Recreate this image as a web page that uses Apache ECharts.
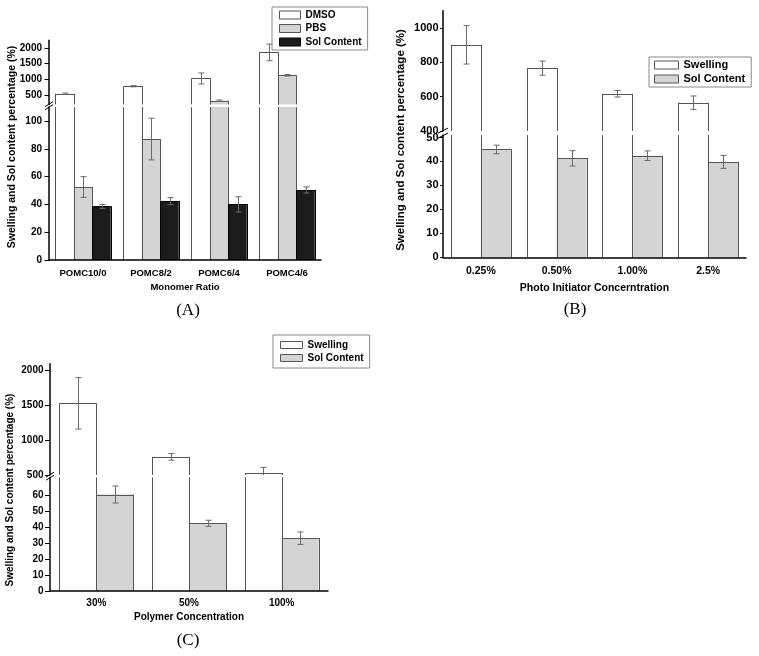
<!DOCTYPE html>
<html><head><meta charset="utf-8">
<script src="https://cdn.jsdelivr.net/npm/echarts@6/dist/echarts.min.js"></script>
<style>html,body{margin:0;padding:0;background:#fff}#c{width:759px;height:656px}</style>
</head><body><div id="c"></div>
<script>
// ---------- Panel A ----------
const catsA = ['POMC10/0', 'POMC8/2', 'POMC6/4', 'POMC4/6'];
const dmsoA = [540, 780, 1030, 1860];
const dmsoErrA = [20, 20, 175, 265];
const pbsA = [52.5, 87, 320, 1130];
const pbsErrA = [7.5, 15, 20, 25];
const solA = [38.5, 42.4, 40, 50.4];
const solErrA = [1.5, 2.5, 5.5, 2.2];
const ticksAUpper = [500, 1000, 1500, 2000];
const ticksALower = [0, 20, 40, 60, 80, 100];
// ---------- Panel B ----------
const catsB = ['0.25%', '0.50%', '1.00%', '2.5%'];
const swellB = [902, 766, 617, 565];
const swellErrB = [112, 41, 19, 39];
const solB = [45, 41.3, 42.4, 39.8];
const solErrB = [1.8, 3.2, 2, 2.7];
const ticksBUpper = [400, 600, 800, 1000];
const ticksBLower = [0, 10, 20, 30, 40, 50];
// ---------- Panel C ----------
const catsC = ['30%', '50%', '100%'];
const swellC = [1530, 761, 529];
const swellErrC = [370, 48, 80];
const solC = [60.3, 42.3, 33];
const solErrC = [5.3, 1.9, 3.9];
const ticksCUpper = [500, 1000, 1500, 2000];
const ticksCLower = [0, 10, 20, 30, 40, 50, 60];

const YNAME = 'Swelling and Sol content percentage (%)';
const FONT = 'Liberation Sans, Arial, Helvetica, sans-serif';
const WHITE = {fill: '#ffffff', stroke: '#555555'};
const GRAY = {fill: '#d4d4d4', stroke: '#555555'};
const BLACK = {fill: '#1c1c1c', stroke: '#000000'};

const panels = [
  {cats: catsA, xName: 'Monomer Ratio',
   series: [{name: 'DMSO', v: dmsoA, e: dmsoErrA, st: WHITE},
            {name: 'PBS', v: pbsA, e: pbsErrA, st: GRAY},
            {name: 'Sol Content', v: solA, e: solErrA, st: BLACK}],
   left: 49, width: 272,
   upper: {top: 40.2, height: 64.2, min: 200, max: 2250, ticks: ticksAUpper},
   lower: {top: 107.1, height: 152.9, min: 0, max: 110, ticks: ticksALower},
   barWidth: 18.5, cap: 6, ySize: 10, tickLen: 4.5, labelMargin: 7,
   xSize: 9.5, xMargin: 8, xNameSize: 9.5, xNameGap: 22.5,
   brk: {off: 1.4, dx: 4, dy: 2.5, sep: 3}},
  {cats: catsB, xName: 'Photo Initiator Concerntration',
   series: [{name: 'Swelling', v: swellB, e: swellErrB, st: WHITE},
            {name: 'Sol Content', v: solB, e: solErrB, st: GRAY}],
   left: 443, width: 303,
   upper: {top: 10.8, height: 120.2, min: 400, max: 1100, ticks: ticksBUpper},
   lower: {top: 135.1, height: 122.2, min: 0, max: 51, ticks: ticksBLower},
   barWidth: 30, cap: 6, ySize: 11, tickLen: 3, labelMargin: 4.5,
   xSize: 10.5, xMargin: 8, xNameSize: 10.5, xNameGap: 25,
   brk: {off: 2, dx: 5, dy: 2.5, sep: 5}},
  {cats: catsC, xName: 'Polymer Concentration',
   series: [{name: 'Swelling', v: swellC, e: swellErrC, st: WHITE},
            {name: 'Sol Content', v: solC, e: solErrC, st: GRAY}],
   left: 50, width: 278,
   upper: {top: 363.7, height: 111.3, min: 500, max: 2100, ticks: ticksCUpper},
   lower: {top: 477.4, height: 113.6, min: 0, max: 71, ticks: ticksCLower},
   barWidth: 37, cap: 6, ySize: 10, tickLen: 5, labelMargin: 6.5,
   xSize: 10, xMargin: 7, xNameSize: 10, xNameGap: 21,
   brk: {off: 1.2, dx: 4, dy: 2.5, sep: 3}}
];

function outlineRender(idx, n, bw, cap, stroke) {
  return function (params, api) {
    const cs = params.coordSys;
    const ci = api.value(0), v = api.value(1), e = api.value(2);
    const p0 = api.coord([ci, 0]);
    const pv = api.coord([ci, v]);
    const cx = p0[0] + (idx - (n - 1) / 2) * bw;
    const x0 = Math.round(cx - bw / 2) + 0.5, x1 = Math.round(cx + bw / 2) + 0.5;
    const yMin = cs.y, yMax = cs.y + cs.height;
    const top = Math.max(pv[1], yMin), bot = Math.min(p0[1], yMax);
    const children = [];
    const ls = {stroke: stroke, lineWidth: 1};
    if (top < bot) {
      children.push({type: 'line', shape: {x1: x0, y1: bot, x2: x0, y2: top}, style: ls});
      children.push({type: 'line', shape: {x1: x1, y1: bot, x2: x1, y2: top}, style: ls});
      if (pv[1] >= yMin) {
        const yt = Math.round(pv[1]) + 0.5;
        children.push({type: 'line', shape: {x1: x0, y1: yt, x2: x1, y2: yt}, style: ls});
      }
    }
    if (pv[1] >= yMin - 0.5 && pv[1] <= yMax + 0.5) {
      const pt = api.coord([ci, v + e]), pb = api.coord([ci, v - e]);
      const et = Math.max(pt[1], yMin), eb = Math.min(pb[1], yMax);
      const ex = Math.round(cx) + 0.5;
      const es = {stroke: '#6a6a6a', lineWidth: 1};
      children.push({type: 'line', shape: {x1: ex, y1: et, x2: ex, y2: eb}, style: es});
      if (pt[1] >= yMin) children.push({type: 'line', shape: {x1: ex - cap / 2, y1: pt[1], x2: ex + cap / 2, y2: pt[1]}, style: es});
      if (pb[1] <= yMax) children.push({type: 'line', shape: {x1: ex - cap / 2, y1: pb[1], x2: ex + cap / 2, y2: pb[1]}, style: es});
    }
    return {type: 'group', children: children};
  };
}

function breakRender(b) {
  return function (params) {
    const cs = params.coordSys;
    const x = cs.x, y = cs.y - b.off, h = b.sep / 2;
    const st = {stroke: '#000', lineWidth: 1};
    return {type: 'group', children: [
      {type: 'line', shape: {x1: x - b.dx, y1: y - h + b.dy, x2: x + b.dx, y2: y - h - b.dy}, style: st},
      {type: 'line', shape: {x1: x - b.dx, y1: y + h + b.dy, x2: x + b.dx, y2: y + h - b.dy}, style: st}
    ]};
  };
}

function plainNum(v) { return String(v); }

const grid = [], xAxis = [], yAxis = [], series = [];
panels.forEach(function (p) {
  ['upper', 'lower'].forEach(function (part) {
    const g = p[part];
    const gi = grid.length;
    grid.push({left: p.left, top: g.top, width: p.width, height: g.height, containLabel: false});
    const isLower = part === 'lower';
    xAxis.push({
      gridIndex: gi, type: 'category', data: p.cats, show: isLower, z: 10,
      axisLine: {show: true, onZero: false, lineStyle: {color: '#000', width: 1.5}},
      axisTick: {show: false},
      axisLabel: {fontSize: p.xSize, fontWeight: 'bold', color: '#000', margin: p.xMargin, fontFamily: FONT},
      name: isLower ? p.xName : '', nameLocation: 'middle', nameGap: p.xNameGap,
      nameTextStyle: {fontSize: p.xNameSize, fontWeight: 'bold', color: '#000', fontFamily: FONT}
    });
    yAxis.push({
      gridIndex: gi, type: 'value', min: g.min, max: g.max, z: 10,
      axisLine: {show: true, lineStyle: {color: '#000', width: 1.5}},
      axisTick: {show: true, length: p.tickLen, customValues: g.ticks, lineStyle: {color: '#000', width: 1}},
      axisLabel: {customValues: g.ticks, formatter: plainNum, fontSize: p.ySize, fontWeight: 'bold', color: '#000', margin: p.labelMargin, fontFamily: FONT},
      splitLine: {show: false}
    });
    const n = p.series.length;
    p.series.forEach(function (s, idx) {
      series.push({
        type: 'bar', name: s.name, xAxisIndex: gi, yAxisIndex: gi, data: s.v,
        barWidth: p.barWidth, barGap: '0%', silent: true, z: 2,
        itemStyle: {color: s.st.fill, borderWidth: 0}
      });
      series.push({
        type: 'custom', xAxisIndex: gi, yAxisIndex: gi, silent: true, z: 3,
        encode: {x: 0, y: 1},
        data: s.v.map(function (val, i) { return [i, val, s.e[i]]; }),
        renderItem: outlineRender(idx, n, p.barWidth, p.cap, s.st.stroke)
      });
    });
    if (isLower) {
      series.push({
        type: 'custom', xAxisIndex: gi, yAxisIndex: gi, silent: true, z: 11,
        data: [[0, 0]], renderItem: breakRender(p.brk)
      });
    }
  });
});

function legItem(name, st) {
  return {name: name, itemStyle: {color: st.fill, borderColor: st.stroke, borderWidth: 1}};
}
const legendBase = {orient: 'vertical', icon: 'rect', selectedMode: false,
  borderColor: '#8a8a8a', borderWidth: 1, align: 'left'};

const option = {
  animation: false,
  textStyle: {fontFamily: FONT},
  grid: grid, xAxis: xAxis, yAxis: yAxis, series: series,
  legend: [
    Object.assign({}, legendBase, {left: 272, top: 7, itemWidth: 21, itemHeight: 8, itemGap: 3.5,
      padding: [3, 6, 3, 7],
      textStyle: {fontSize: 10, fontWeight: 'bold', color: '#000', lineHeight: 10, fontFamily: FONT},
      data: [legItem('DMSO', WHITE), legItem('PBS', GRAY), legItem('Sol Content', BLACK)]}),
    Object.assign({}, legendBase, {left: 649, top: 57, itemWidth: 24, itemHeight: 8, itemGap: 3,
      padding: [2.5, 6, 2.5, 5],
      textStyle: {fontSize: 11, fontWeight: 'bold', color: '#000', lineHeight: 11, fontFamily: FONT},
      data: [legItem('Swelling', WHITE), legItem('Sol Content', GRAY)]}),
    Object.assign({}, legendBase, {left: 273, top: 335, itemWidth: 22, itemHeight: 7, itemGap: 2,
      padding: [4.5, 6, 4.5, 7],
      textStyle: {fontSize: 10, fontWeight: 'bold', color: '#000', lineHeight: 11, fontFamily: FONT},
      data: [legItem('Swelling', WHITE), legItem('Sol Content', GRAY)]})
  ],
  graphic: [
    {type: 'text', x: 12.5, y: 147, rotation: Math.PI / 2, silent: true,
     style: {text: YNAME, fontSize: 10.5, fontWeight: 'bold', fontFamily: FONT, fill: '#000', align: 'center', verticalAlign: 'middle'}},
    {type: 'text', x: 401, y: 140, rotation: Math.PI / 2, silent: true,
     style: {text: YNAME, fontSize: 11.5, fontWeight: 'bold', fontFamily: FONT, fill: '#000', align: 'center', verticalAlign: 'middle'}},
    {type: 'text', x: 10, y: 490, rotation: Math.PI / 2, silent: true,
     style: {text: YNAME, fontSize: 10, fontWeight: 'bold', fontFamily: FONT, fill: '#000', align: 'center', verticalAlign: 'middle'}},
    {type: 'text', x: 188, y: 311, silent: true,
     style: {text: '(A)', fontSize: 17, fontFamily: 'Liberation Serif, Times New Roman, serif', fill: '#000', align: 'center', verticalAlign: 'middle'}},
    {type: 'text', x: 575, y: 310, silent: true,
     style: {text: '(B)', fontSize: 17, fontFamily: 'Liberation Serif, Times New Roman, serif', fill: '#000', align: 'center', verticalAlign: 'middle'}},
    {type: 'text', x: 188, y: 641, silent: true,
     style: {text: '(C)', fontSize: 17, fontFamily: 'Liberation Serif, Times New Roman, serif', fill: '#000', align: 'center', verticalAlign: 'middle'}}
  ]
};

const chart = echarts.init(document.getElementById('c'), null, {renderer: 'canvas'});
chart.setOption(option);
</script>
</body></html>
